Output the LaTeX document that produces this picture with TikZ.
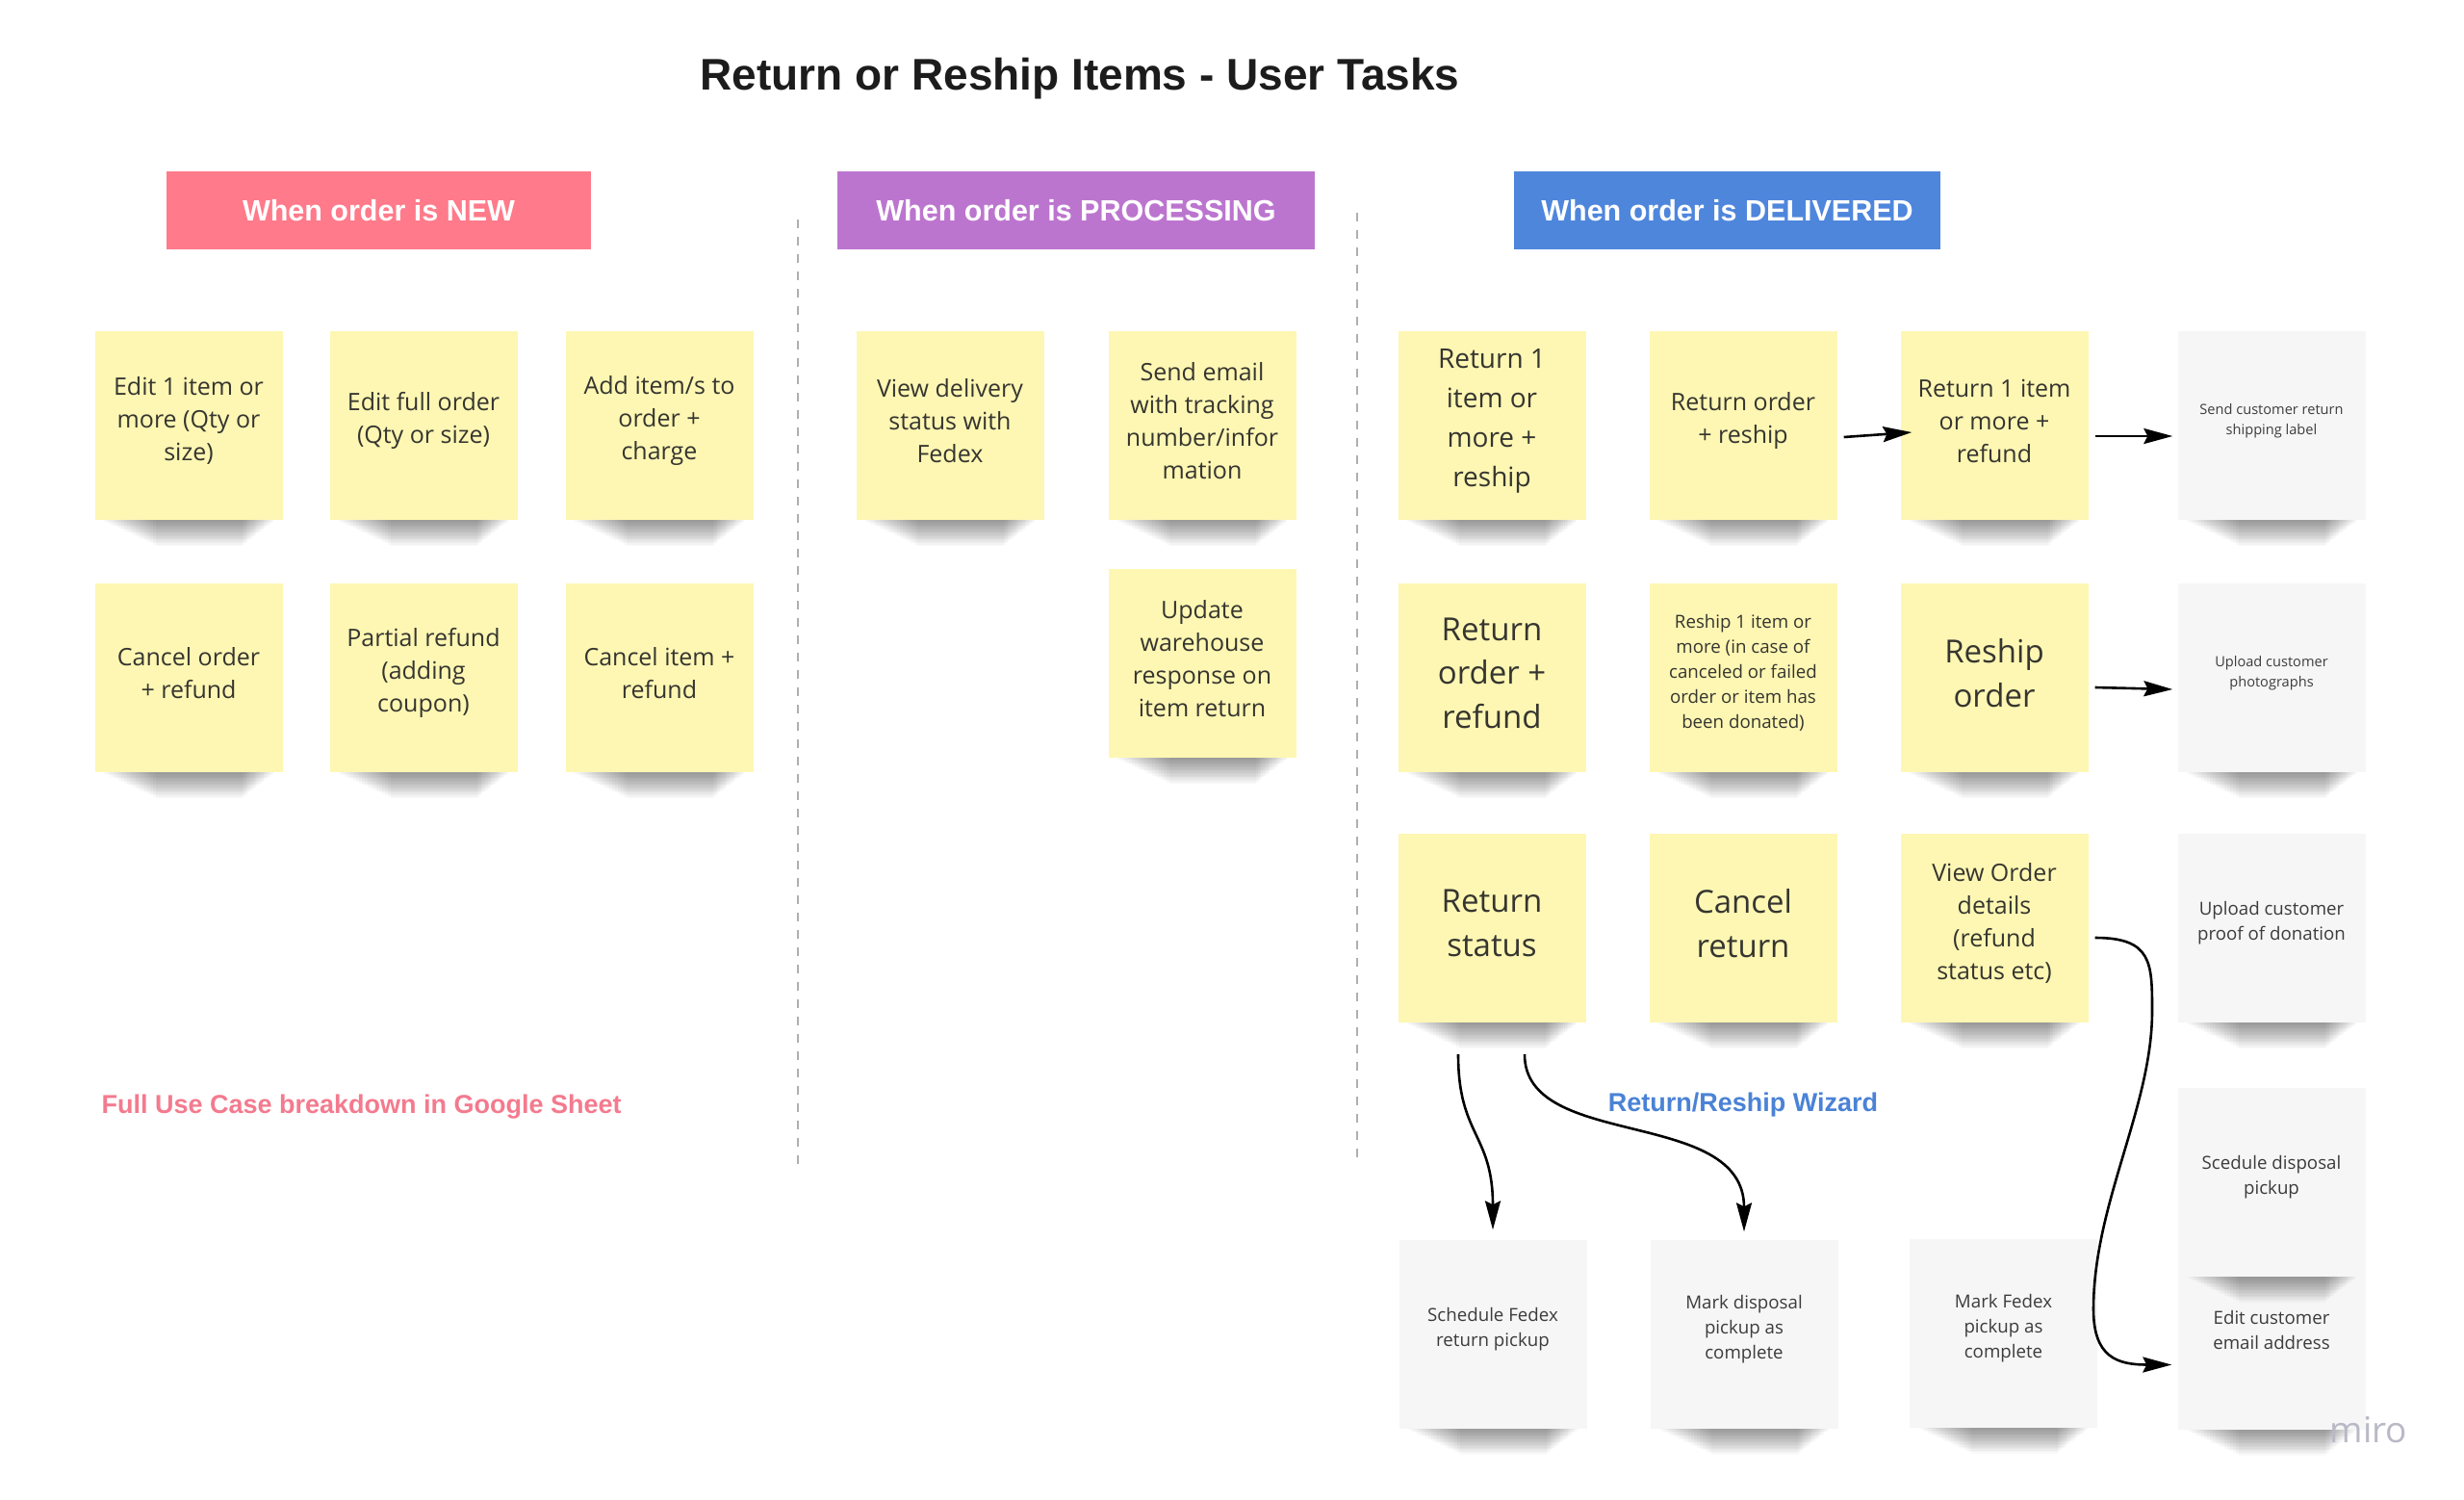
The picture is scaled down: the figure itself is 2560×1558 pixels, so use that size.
\documentclass[tikz,border=0pt]{standalone}
\usepackage{fontspec}
\setmainfont{Open Sans}
\newfontfamily\hfont{Liberation Sans}
\usetikzlibrary{arrows.meta,calc}
\definecolor{stky}{RGB}{253,247,179}
\definecolor{stkw}{RGB}{246,246,246}
\definecolor{txtc}{RGB}{54,53,48}
\definecolor{txtw}{RGB}{60,60,60}
\definecolor{newc}{RGB}{255,122,138}
\definecolor{procc}{RGB}{188,117,207}
\definecolor{delvc}{RGB}{78,134,220}
\definecolor{pinkt}{RGB}{244,122,142}
\definecolor{bluet}{RGB}{74,130,214}
\definecolor{dashc}{RGB}{175,175,175}
\definecolor{titlec}{RGB}{28,28,28}
\definecolor{miroc}{RGB}{185,185,198}
\newcommand\stknote[5]{%
  \foreach \i in {1,...,20}{%
    \fill[black,opacity=0.024] ({#2-94+3*\i},{#3+92}) rectangle ({#2+92-1.8*\i},{#3+97+1.4*\i});
  }
  \node[#4] (#1) at (#2,#3) {};
  \node[#4, fill=none, minimum width=0pt, minimum height=0pt] (#1-t) at ($(#1.center)+(0,-5)$) {#5};
}
\begin{document}
\begin{tikzpicture}[x=1pt,y=-1pt,
  sticky/.style={rectangle, minimum width=195pt, minimum height=196pt, inner sep=0pt, fill=stky, text=txtc, align=center},
  wnote/.style={sticky, fill=stkw, text=txtw},
  fa/.style={font=\fontsize{25}{34}\selectfont},
  fb/.style={font=\fontsize{33}{45.5}\selectfont},
  fc/.style={font=\fontsize{28}{41}\selectfont},
  fd/.style={font=\fontsize{18.7}{26}\selectfont},
  fe/.style={font=\fontsize{14.6}{21.5}\selectfont},
  hdr/.style={rectangle, minimum height=81pt, inner sep=0pt, text=white, font=\hfont\bfseries\fontsize{30.5}{36}\selectfont},
  arr/.style={-{Stealth[length=30pt,width=16pt,inset=4pt]}, line width=2.6pt, black},
  divider/.style={dashc, line width=2pt, dash pattern=on 9pt off 9pt},
  note/.style={font=\hfont\bfseries\fontsize{27}{30}\selectfont}
]
\useasboundingbox (0,0) rectangle (2560,1558);
\fill[white] (0,0) rectangle (2560,1558);

% title
\node[font=\hfont\bfseries\fontsize{46}{50}\selectfont, text=titlec, anchor=base] (title) at (1122,93) {Return or Reship Items - User Tasks};

% headers
\node[hdr, fill=newc, minimum width=441pt] (hnew) at (393.5,218.5) {When order is NEW};
\node[hdr, fill=procc, minimum width=496pt] (hproc) at (1118,218.5) {When order is PROCESSING};
\node[hdr, fill=delvc, minimum width=443pt] (hdel) at (1794.5,218.5) {When order is DELIVERED};

% dividers
\draw[divider] (829,228) -- (829,1214);
\draw[divider] (1410,221) -- (1410,1206);

% NEW
\stknote{n11}{196}{442}{sticky,fa}{Edit 1 item or\\more (Qty or\\size)}
\stknote{n12}{440}{442}{sticky,fa}{Edit full order\\(Qty or size)}
\stknote{n13}{685}{442}{sticky,fa}{Add item/s to\\order +\\charge}
\stknote{n21}{196}{704}{sticky,fa}{Cancel order\\+ refund}
\stknote{n22}{440}{704}{sticky,fa}{Partial refund\\(adding\\coupon)}
\stknote{n23}{685}{704}{sticky,fa}{Cancel item +\\refund}

% PROCESSING
\stknote{p11}{987}{442}{sticky,fa}{View delivery\\status with\\Fedex}
\stknote{p12}{1249}{442}{sticky,fa}{Send email\\with tracking\\number/infor\\mation}
\stknote{p22}{1249}{689}{sticky,fa}{Update\\warehouse\\response on\\item return}

% DELIVERED
\stknote{d11}{1550}{442}{sticky,fc}{Return 1\\item or\\more +\\reship}
\stknote{d12}{1811}{442}{sticky,fa}{Return order\\+ reship}
\stknote{d13}{2072}{442}{sticky,fa}{Return 1 item\\or more +\\refund}
\stknote{d14}{2360}{442}{wnote,fe}{Send customer return\\shipping label}
\stknote{d21}{1550}{704}{sticky,fb}{Return\\order +\\refund}
\stknote{d22}{1811}{704}{sticky,fd}{Reship 1 item or\\more (in case of\\canceled or failed\\order or item has\\been donated)}
\stknote{d23}{2072}{704}{sticky,fb}{Reship\\order}
\stknote{d24}{2360}{704}{wnote,fe}{Upload customer\\photographs}
\stknote{d31}{1550}{964}{sticky,fb}{Return\\status}
\stknote{d32}{1811}{964}{sticky,fb}{Cancel\\return}
\stknote{d33}{2072}{964}{sticky,fa}{View Order\\details\\(refund\\status etc)}
\stknote{d34}{2360}{964}{wnote,fd}{Upload customer\\proof of donation}
\stknote{d54}{2360}{1386.5}{wnote,fd}{Edit customer\\email address}
\stknote{d44}{2360}{1227.5}{wnote,fd}{Scedule disposal\\pickup}
\stknote{b1}{1551}{1385.5}{wnote,fd}{Schedule Fedex\\return pickup}
\stknote{b2}{1812}{1385.5}{wnote,fd}{Mark disposal\\pickup as\\complete}
\stknote{b3}{2081.5}{1384.5}{wnote,fd}{Mark Fedex\\pickup as\\complete}

% notes
\node[note, text=pinkt, anchor=west] (gsheet) at (102,1150) {Full Use Case breakdown in Google Sheet};
\node[note, text=bluet] (wizard) at (1811,1148) {Return/Reship Wizard};
\node[font=\fontsize{37}{40}\selectfont, text=miroc] (miro) at (2461,1485) {miro};

% connectors
\draw[arr] ($(d12.east)+(7,12)$) -- ($(d13.west)+(12,7)$);
\draw[arr] ($(d13.east)+(7,11)$) -- ($(d14.west)+(-5,11)$);
\draw[arr] ($(d23.east)+(7,10)$) -- ($(d24.west)+(-5,12)$);
\draw[arr] ($(d31.south)+(-35,33)$) .. controls +(0,85) and +(0,-100) .. ($(b1.north)+(0,-10)$);
\draw[arr] ($(d31.south)+(34,33)$) .. controls +(0,100) and +(0,-130) .. ($(b2.north)+(0,-8)$);
\draw[arr] ($(d33.east)+(7,10)$) .. controls +(59,0) and +(0,-50) .. (2236,1050) .. controls (2236,1150) and (2175,1250) .. (2175,1360) .. controls (2175,1410) and (2200,1417.5) .. ($(d54.west)+(-6,31)$);
\end{tikzpicture}
\end{document}
